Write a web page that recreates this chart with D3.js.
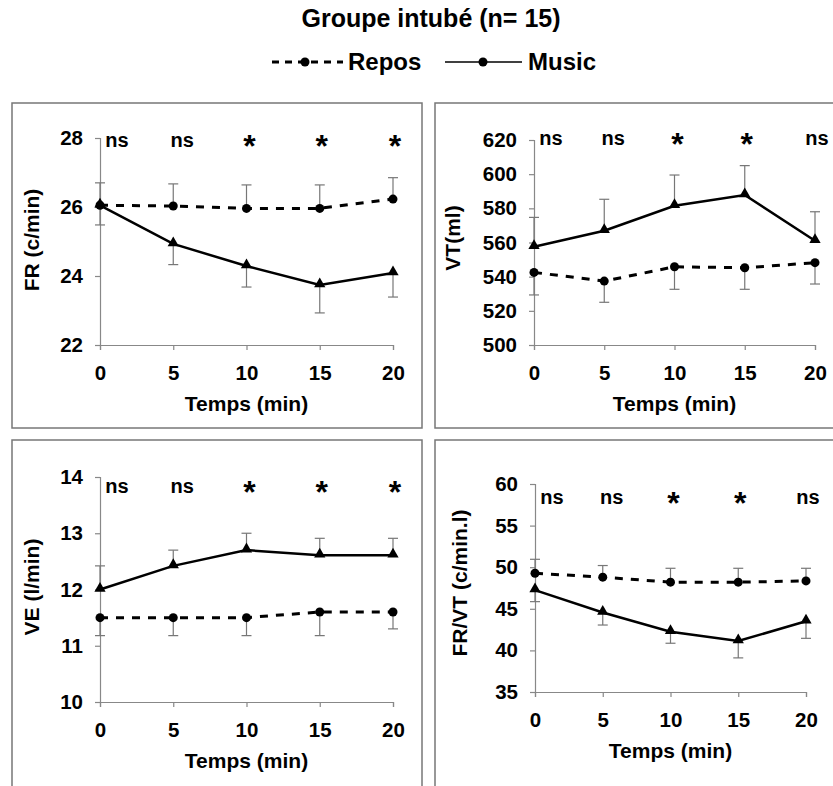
<!DOCTYPE html>
<html>
<head>
<meta charset="utf-8">
<script src="https://cdn.jsdelivr.net/npm/d3@7"></script>
<style>
  body { margin: 0; background: #fff; }
  text { font-family: Arial, "Liberation Sans", sans-serif; font-weight: bold; }
</style>
</head>
<body>
<div class="svg-container"></div>
<script>
// temps (min)
var temps = [0, 5, 10, 15, 20];

// FR (c/min)
var frRepos = [26.05, 26.03, 25.96, 25.96, 26.23];
var frReposSd = [0.65, 0.64, 0.68, 0.68, 0.62];
var frMusic = [26.05, 24.93, 24.29, 23.74, 24.09];
var frMusicSd = [0.57, 0.6, 0.61, 0.81, 0.7];
var frSig = ["ns", "ns", "*", "*", "*"];
var frTicks = [22, 24, 26, 28];

// VT (ml)
var vtRepos = [542.5, 537.4, 545.8, 545.2, 548.2];
var vtReposSd = [13.2, 12.4, 13.2, 12.6, 12.5];
var vtMusic = [557.5, 566.9, 581.5, 587.8, 561];
var vtMusicSd = [17.2, 18.4, 18, 17.2, 17];
var vtSig = ["ns", "ns", "*", "*", "ns"];
var vtTicks = [500, 520, 540, 560, 580, 600, 620];

// VE (l/min)
var veRepos = [11.5, 11.5, 11.5, 11.6, 11.6];
var veReposSd = [0.32, 0.32, 0.32, 0.42, 0.3];
var veMusic = [12.0, 12.42, 12.7, 12.61, 12.61];
var veMusicSd = [0.42, 0.28, 0.3, 0.3, 0.3];
var veSig = ["ns", "ns", "*", "*", "*"];
var veTicks = [10, 11, 12, 13, 14];

// FR/VT (c/min.l)
var fvRepos = [49.27, 48.8, 48.2, 48.2, 48.35];
var fvReposSd = [1.68, 1.4, 1.67, 1.67, 1.52];
var fvMusic = [47.25, 44.56, 42.25, 41.13, 43.5];
var fvMusicSd = [1.39, 1.51, 1.39, 2.03, 2.05];
var fvSig = ["ns", "ns", "*", "*", "ns"];
var fvTicks = [35, 40, 45, 50, 55, 60];

var svg = d3.select(".svg-container").append("svg")
    .attr("width", 833)
    .attr("height", 786);

// title + legend
svg.append("text").attr("x", 431).attr("y", 27)
    .attr("text-anchor", "middle").attr("font-size", "25px")
    .text("Groupe intubé (n= 15)");

svg.append("line").attr("x1", 272).attr("x2", 343).attr("y1", 62).attr("y2", 62)
    .attr("stroke", "black").attr("stroke-width", 3).attr("stroke-dasharray", "7,6");
svg.append("circle").attr("cx", 305).attr("cy", 62).attr("r", 4.5).attr("fill", "black");
svg.append("text").attr("x", 348).attr("y", 70).attr("font-size", "24px").text("Repos");
svg.append("line").attr("x1", 445).attr("x2", 522).attr("y1", 62).attr("y2", 62)
    .attr("stroke", "black").attr("stroke-width", 1.5);
svg.append("circle").attr("cx", 483).attr("cy", 62).attr("r", 4.5).attr("fill", "black");
svg.append("text").attr("x", 528).attr("y", 70).attr("font-size", "24px").text("Music");

// panel frames
svg.append("rect").attr("x", 12).attr("y", 103).attr("width", 410).attr("height", 325)
    .attr("fill", "none").attr("stroke", "#777").attr("stroke-width", 1.5);
svg.append("rect").attr("x", 435).attr("y", 103).attr("width", 420).attr("height", 325)
    .attr("fill", "none").attr("stroke", "#777").attr("stroke-width", 1.5);
svg.append("rect").attr("x", 12).attr("y", 440).attr("width", 410).attr("height", 360)
    .attr("fill", "none").attr("stroke", "#777").attr("stroke-width", 1.5);
svg.append("rect").attr("x", 435).attr("y", 440).attr("width", 420).attr("height", 360)
    .attr("fill", "none").attr("stroke", "#777").attr("stroke-width", 1.5);

function panel(p) {
    var x = d3.scaleLinear().domain([0, 20]).range([p.x0, p.x1]);
    var y = d3.scaleLinear().domain([p.ticks[0], p.ticks[p.ticks.length - 1]]).range([p.y1, p.y0]);
    var g = svg.append("g");

    var ya = g.append("g").attr("transform", "translate(" + p.x0 + ",0)")
        .call(d3.axisLeft(y).tickValues(p.ticks).tickFormat(d3.format("d")).tickSize(5).tickPadding(12));
    var xa = g.append("g").attr("transform", "translate(0," + p.y1 + ")")
        .call(d3.axisBottom(x).tickValues(temps).tickFormat(d3.format("d")).tickSize(5).tickPadding(15));
    [ya, xa].forEach(function(a) {
        a.select(".domain").attr("stroke", "#888").attr("stroke-width", 1.2);
        a.selectAll(".tick line").attr("stroke", "#888").attr("stroke-width", 1.2);
        a.selectAll("text").attr("font-size", "20.5px").attr("fill", "black")
            .attr("font-family", "Arial, 'Liberation Sans', sans-serif").attr("font-weight", "bold");
    });

    g.append("text").attr("x", (p.x0 + p.x1) / 2).attr("y", p.y1 + 66)
        .attr("text-anchor", "middle").attr("font-size", "21px").text("Temps (min)");
    g.append("text").attr("transform", "translate(" + p.lx + "," + p.ly + ") rotate(-90)")
        .attr("text-anchor", "middle").attr("font-size", "21px").text(p.label);

    // error bars
    [[p.repos, p.reposSd, p.reposDir], [p.music, p.musicSd, p.musicDir]].forEach(function(s) {
        temps.forEach(function(t, i) {
            var yEnd = y(s[0][i] + s[2] * s[1][i]);
            g.append("line").attr("x1", x(t)).attr("x2", x(t))
                .attr("y1", y(s[0][i])).attr("y2", yEnd)
                .attr("stroke", "#777").attr("stroke-width", 1.2);
            g.append("line").attr("x1", x(t) - 5).attr("x2", x(t) + 5)
                .attr("y1", yEnd).attr("y2", yEnd)
                .attr("stroke", "#777").attr("stroke-width", 1.2);
        });
    });

    var line = d3.line().x(function(d, i) { return x(temps[i]); }).y(function(d) { return y(d); });
    g.append("path").datum(p.repos).attr("d", line).attr("fill", "none")
        .attr("stroke", "black").attr("stroke-width", 3).attr("stroke-dasharray", "8,8");
    g.append("path").datum(p.music).attr("d", line).attr("fill", "none")
        .attr("stroke", "black").attr("stroke-width", 2.5);

    g.selectAll(".dot").data(p.repos).enter().append("circle")
        .attr("cx", function(d, i) { return x(temps[i]); })
        .attr("cy", function(d) { return y(d); })
        .attr("r", 4.5).attr("fill", "black");
    g.selectAll(".tri").data(p.music).enter().append("path")
        .attr("d", d3.symbol().type(d3.symbolTriangle).size(55))
        .attr("transform", function(d, i) { return "translate(" + x(temps[i]) + "," + (y(d) - 1) + ")"; })
        .attr("fill", "black");

    // significance labels
    var shift = [17, 9, 3, 2, 2];
    g.selectAll(".sig").data(p.sig).enter().append("text")
        .attr("x", function(d, i) { return x(temps[i]) + shift[i]; })
        .attr("y", function(d) { return d == "*" ? p.sy + 10 : p.sy; })
        .attr("text-anchor", "middle")
        .attr("font-size", function(d) { return d == "*" ? "32px" : "20px"; })
        .text(function(d) { return d; });
}

panel({ x0: 100, x1: 393, y0: 138, y1: 345, ticks: frTicks, label: "FR (c/min)", lx: 39, ly: 240,
        repos: frRepos, reposSd: frReposSd, reposDir: 1, music: frMusic, musicSd: frMusicSd, musicDir: -1,
        sig: frSig, sy: 147 });
panel({ x0: 534, x1: 815, y0: 140, y1: 345, ticks: vtTicks, label: "VT(ml)", lx: 460, ly: 238,
        repos: vtRepos, reposSd: vtReposSd, reposDir: -1, music: vtMusic, musicSd: vtMusicSd, musicDir: 1,
        sig: vtSig, sy: 145 });
panel({ x0: 100, x1: 393, y0: 477, y1: 702, ticks: veTicks, label: "VE (l/min)", lx: 39, ly: 587,
        repos: veRepos, reposSd: veReposSd, reposDir: -1, music: veMusic, musicSd: veMusicSd, musicDir: 1,
        sig: veSig, sy: 493 });
panel({ x0: 535, x1: 806, y0: 484, y1: 692, ticks: fvTicks, label: "FR/VT (c/min.l)", lx: 467, ly: 583,
        repos: fvRepos, reposSd: fvReposSd, reposDir: 1, music: fvMusic, musicSd: fvMusicSd, musicDir: -1,
        sig: fvSig, sy: 504 });
</script>
</body>
</html>
